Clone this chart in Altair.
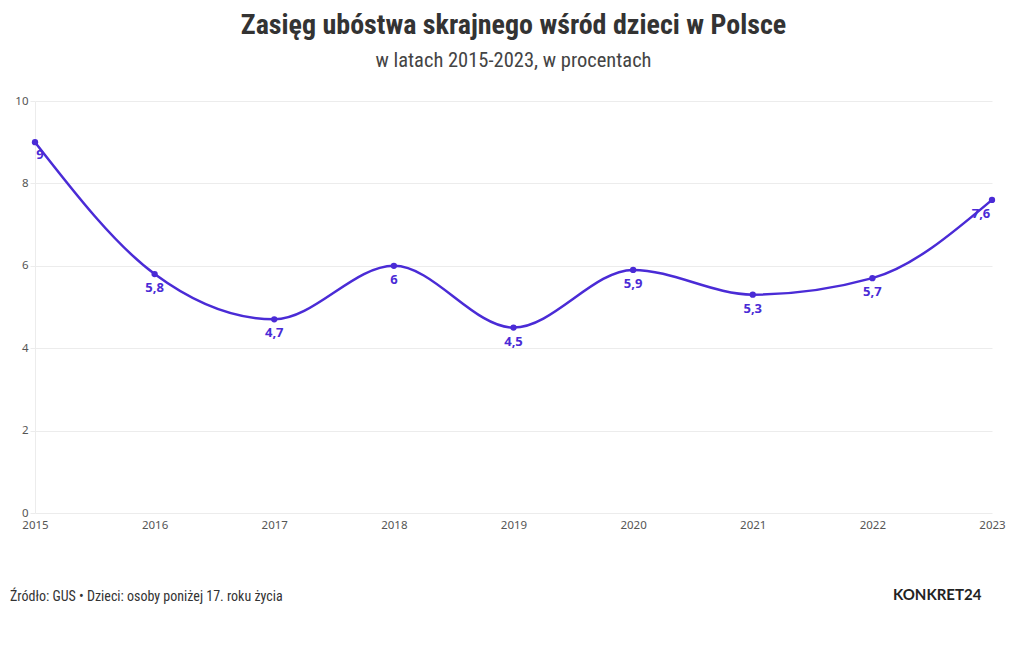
import altair as alt
import pandas as pd

years = [2015, 2016, 2017, 2018, 2019, 2020, 2021, 2022, 2023]
values = [9, 5.8, 4.7, 6, 4.5, 5.9, 5.3, 5.7, 7.6]
labels = ["9", "5,8", "4,7", "6", "4,5", "5,9", "5,3", "5,7", "7,6"]

df = pd.DataFrame({"rok": years, "wartosc": values, "etykieta": labels})

FONT = "Roboto Condensed, Liberation Sans Narrow, Roboto, sans-serif"
AXFONT = "Noto Sans, Open Sans, sans-serif"
COLOR = "#4a2bd6"

x = alt.X("rok:Q", scale=alt.Scale(domain=[2015, 2023], nice=False, zero=False),
          axis=alt.Axis(values=years, format="d", title=None, grid=False, domain=False,
                        ticks=False, labelPadding=6, labelFontSize=11.5, labelColor="#555",
                        labelFont=AXFONT, labelFlush=False))
y = alt.Y("wartosc:Q", scale=alt.Scale(domain=[0, 10], nice=False),
          axis=alt.Axis(values=[0, 2, 4, 6, 8, 10], title=None, gridColor="#ececec",
                        domainColor="#ececec", tickColor="#ececec", tickSize=5,
                        labelFontSize=11.5, labelColor="#555", labelFont=AXFONT, labelPadding=2))

base = alt.Chart(df)
line = base.mark_line(interpolate="monotone", color=COLOR, strokeWidth=2.5).encode(x=x, y=y)
pts = base.mark_point(filled=True, color=COLOR, size=40, opacity=1).encode(x="rok:Q", y="wartosc:Q")

def lbl(cond, dx, dy):
    return base.transform_filter(cond).mark_text(
        color=COLOR, fontWeight="bold", fontSize=13, dx=dx, dy=dy, font="Noto Sans").encode(
        x="rok:Q", y="wartosc:Q", text="etykieta:N")

txt_first = lbl("datum.rok == 2015", 5, 13)
txt_mid = lbl("datum.rok > 2015 && datum.rok < 2023", 0, 14)
txt_last = lbl("datum.rok == 2023", -11, 14)

footer_df = pd.DataFrame({"t": ["Źródło: GUS • Dzieci: osoby poniżej 17. roku życia"]})
footer = alt.Chart(footer_df).mark_text(align="left", baseline="middle", fontSize=14,
                                        color="#333", font=FONT).encode(
    text="t:N", x=alt.value(-25), y=alt.value(496))
logo_df = pd.DataFrame({"t": ["KONKRET24"]})
logo = alt.Chart(logo_df).mark_text(align="left", baseline="middle", fontSize=15, fontWeight="bold",
                                    color="#222", font="Lato").encode(
    text="t:N", x=alt.value(858), y=alt.value(494))

chart = alt.layer(line, pts, txt_first, txt_mid, txt_last, footer, logo).properties(
    width=957, height=412,
    title=alt.Title("Zasięg ubóstwa skrajnego wśród dzieci w Polsce",
                    subtitle="w latach 2015-2023, w procentach",
                    anchor="middle", font=FONT, fontSize=28, fontWeight="bold", color="#333",
                    subtitleFont=FONT, subtitleFontSize=20.5, subtitleColor="#444",
                    subtitlePadding=11, offset=24),
    autosize=alt.AutoSizeParams(type="none"),
    padding={"left": 27, "top": 93, "right": 20, "bottom": 130},
    background="white",
).configure_view(stroke=None)

chart.save("out.html", embed_options={"renderer": "svg", "actions": False})
